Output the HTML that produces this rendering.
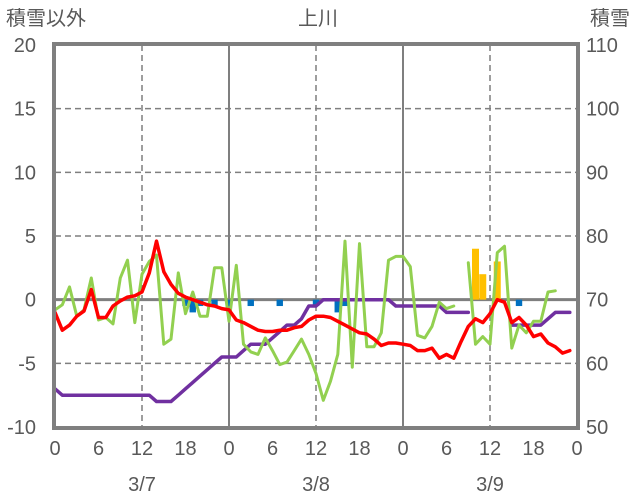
<!DOCTYPE html>
<html><head><meta charset="utf-8"><style>
html,body{margin:0;padding:0;background:#fff;width:636px;height:501px;overflow:hidden}
svg text{font-family:"Liberation Sans","Noto Sans CJK JP",sans-serif;fill:#595959}
</style></head><body>
<svg id="chart" width="636" height="501" viewBox="0 0 636 501" xmlns="http://www.w3.org/2000/svg">
<text x="6" y="25" font-size="20">積雪以外</text>
<text x="318" y="25" font-size="20" text-anchor="middle">上川</text>
<text x="630" y="25" font-size="20" text-anchor="end">積雪</text>
<g id="grid"></g><g id="bars"></g><g id="lines"></g><g id="axes"></g>
</svg>
<script>
const hourTicks=["0","6","12","18","0","6","12","18","0","6","12","18","0"];
const dayLabels=["3/7","3/8","3/9"];
const leftTicks=[20,15,10,5,0,-5,-10];
const rightTicks=[110,100,90,80,70,60,50];
const temp=[-1.0,-2.4,-2.0,-1.3,-0.9,0.8,-1.4,-1.4,-0.5,-0.1,0.2,0.3,0.6,2.1,4.6,2.2,1.2,0.5,0.2,0,-0.2,-0.4,-0.5,-0.7,
-0.8,-1.6,-1.8,-2.1,-2.4,-2.5,-2.5,-2.4,-2.4,-2.2,-2.1,-1.6,-1.3,-1.3,-1.4,-1.7,-2.0,-2.3,-2.6,-2.7,-3.1,-3.6,-3.4,-3.4,
-3.5,-3.6,-4.0,-4.0,-3.8,-4.6,-4.3,-4.6,-3.3,-2.1,-1.5,-1.8,-1.1,0,-0.2,-1.8,-1.4,-2.0,-2.9,-2.7,-3.4,-3.7,-4.2,-4.0];
const wind=[-0.8,-0.4,1.0,-1.3,-0.8,1.7,-1.6,-1.4,-1.9,1.7,3.1,-1.8,2.0,3.0,3.5,-3.5,-3.1,2.1,-1.1,0.6,-1.3,-1.3,2.5,2.5,
-1.7,2.7,-3.5,-4.1,-4.3,-3.0,-4.0,-5.1,-4.9,-4.0,-3.1,-4.3,-5.8,-7.9,-6.4,-4.3,4.6,-5.3,4.4,-3.7,-3.7,-2.6,3.1,3.4,
3.4,2.6,-2.8,-3.0,-2.1,-0.2,-0.7,-0.5,null,2.9,-3.5,-2.9,-3.5,3.7,4.2,-3.8,-2.0,-2.6,-1.7,-1.7,0.6,0.7,null,null];
const snow=[56,55,55,55,55,55,55,55,55,55,55,55,55,55,54,54,54,55,56,57,58,59,60,61,
61,61,62,63,63,63,64,65,66,66,67,69,69,70,70,70,70,70,70,70,70,70,70,69,
69,69,69,69,69,69,68,68,68,68,null,null,null,null,null,66,66,66,66,66,67,68,68,68];
const precipHours=[18,19,20,22,24,27,31,36,39,40,64];
const precipVals=[-0.5,-1.0,-0.5,-0.5,-0.5,-0.5,-0.5,-0.5,-1.0,-0.5,-0.5];
const snowfallHours=[58,59,61];
const snowfallVals=[4,2,3];

const X0=55,X1=577,Y0=45,Y1=427;
const xh=h=>X0+(X1-X0)*h/72;
const yl=v=>Y1-(v+10)*(Y1-Y0)/30;
const yr=v=>Y1-(v-50)*(Y1-Y0)/60;
const NS="http://www.w3.org/2000/svg";
function mk(t,a,p){const e=document.createElementNS(NS,t);for(const k in a)e.setAttribute(k,a[k]);p.appendChild(e);return e;}
const grid=document.getElementById('grid'),bars=document.getElementById('bars'),lines=document.getElementById('lines'),axes=document.getElementById('axes');
[15,10,5,-5].forEach(v=>{const l=mk('line',{x1:X0,x2:X1,y1:yl(v),y2:yl(v),stroke:'#7f7f7f','stroke-width':1.5,'stroke-dasharray':'6,4'},grid);

});
for(let h=12;h<72;h+=12){const solid=h%24===0;const l=mk('line',{x1:xh(h),x2:xh(h),y1:Y0,y2:Y1,stroke:'#7f7f7f','stroke-width':solid?2:1.5,'stroke-dasharray':solid?'none':'6,4'},grid);

}
const zl=mk('line',{x1:X0,x2:X1,y1:yl(0),y2:yl(0),stroke:'#7f7f7f','stroke-width':3},grid);


precipHours.forEach((h,i)=>{const v=precipVals[i];const r=mk('rect',{x:xh(h)-3.2,y:yl(0),width:6.4,height:yl(v)-yl(0),fill:'#0070c0'},bars);

});
snowfallHours.forEach((h,i)=>{const v=snowfallVals[i];const r=mk('rect',{x:xh(h)-3.5,y:yl(v),width:7,height:yl(0)-yl(v),fill:'#ffc000'},bars);

});
function path(arr,yf,color,w,name){let d='',pen=false;arr.forEach((v,i)=>{if(v===null){pen=false;return;}d+=(pen?'L':'M')+xh(i).toFixed(1)+','+yf(v).toFixed(1);pen=true;});
const p=mk('path',{d:d,fill:'none',stroke:color,'stroke-width':w,'stroke-linejoin':'round','stroke-linecap':'round'},lines);

}
path(snow,yr,'#7030a0',3.5,'snow-depth-line');
path(wind,yl,'#92d050',3,'wind-line');
path(temp,yl,'#ff0000',3.5,'temperature-line');
const fr=mk('rect',{x:X0-1,y:Y0-1,width:X1-X0+2,height:Y1-Y0+2,fill:'none',stroke:'#7f7f7f','stroke-width':4},axes);


leftTicks.forEach(v=>{const t=mk('text',{x:36,y:yl(v)+7,'font-size':20,'text-anchor':'end'},axes);t.textContent=v;

});
rightTicks.forEach(v=>{const t=mk('text',{x:586,y:yr(v)+7,'font-size':20},axes);t.textContent=v;

});
hourTicks.forEach((s,i)=>{const t=mk('text',{x:xh(i*6),y:455,'font-size':20,'text-anchor':'middle'},axes);t.textContent=s;

});
dayLabels.forEach((s,i)=>{const t=mk('text',{x:xh(i*24+12),y:491,'font-size':20,'text-anchor':'middle'},axes);t.textContent=s;

});
</script>
</body></html>
